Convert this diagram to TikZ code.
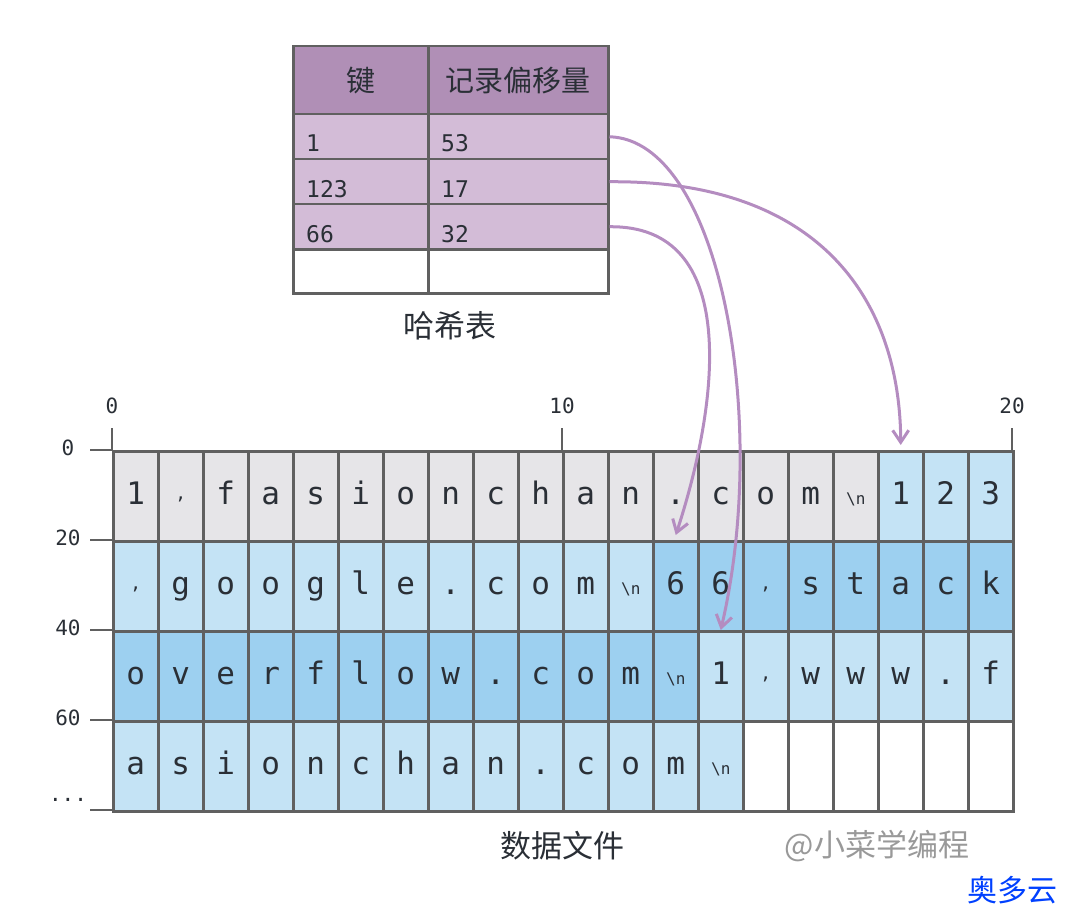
\documentclass[tikz,border=0pt]{standalone}
\usepackage{fontspec}
\setmonofont{DejaVu Sans Mono}
\newfontfamily\cjk{Noto Sans CJK SC}
\usetikzlibrary{arrows.meta}
\definecolor{gridc}{HTML}{606060}
\definecolor{grayc}{HTML}{E6E5E8}
\definecolor{lb}{HTML}{C4E3F5}
\definecolor{db}{HTML}{9DD0F0}
\definecolor{hdr}{HTML}{B08FB6}
\definecolor{row}{HTML}{D3BCD7}
\definecolor{arr}{HTML}{B48CC0}
\definecolor{txt}{HTML}{2A2F36}
\tikzset{
 cell/.style={draw=gridc,line width=2.5pt,minimum width=45pt,minimum height=90pt,inner sep=0pt,anchor=north west,font=\ttfamily\fontsize{31}{31}\selectfont,text=txt,text height=23pt,text depth=7pt},
 hcell/.style={draw=gridc,line width=2.5pt,inner sep=0pt,anchor=north west,text=txt},
 arrowc/.style={draw=arr,line width=3pt,-{Straight Barb[length=12pt,width=16pt,line width=3pt]}},
 tick/.style={draw=gridc,line width=2.5pt},
 axl/.style={font=\ttfamily\fontsize{21}{21}\selectfont,text=txt}
}
\newcommand{\nl}{{\fontsize{16}{16}\selectfont\textbackslash n}}
\newcommand{\cm}{{\fontsize{18}{18}\selectfont\raisebox{5pt}{,}}}
\begin{document}
\begin{tikzpicture}[x=1pt,y=-1pt]
\useasboundingbox (0,0) rectangle (1080,923);
% hash table
\node[hcell,fill=hdr,minimum width=135pt,minimum height=68pt] (h00) at (292,45) {\cjk\fontsize{29}{29}\selectfont 键};
\node[hcell,fill=hdr,minimum width=180pt,minimum height=68pt] (h01) at (427,45) {\cjk\fontsize{29}{29}\selectfont 记录偏移量};
\foreach \k/\v/\i in {1/53/1,123/17/2,66/32/3}{
 \node[hcell,fill=row,minimum width=135pt,minimum height=45pt] (k\i) at (292,113+45*\i-45) {};
 \node[hcell,fill=row,minimum width=180pt,minimum height=45pt] (v\i) at (427,113+45*\i-45) {};
 \node[anchor=base west,inner sep=0pt,font=\ttfamily\fontsize{23}{23}\selectfont,text=txt] (kt\i) at (306,113+45*\i-6) {\k};
 \node[anchor=base west,inner sep=0pt,font=\ttfamily\fontsize{23}{23}\selectfont,text=txt] (vt\i) at (441,113+45*\i-6) {\v};
}
\node[hcell,fill=white,minimum width=135pt,minimum height=44pt] (k4) at (292,248) {};
\node[hcell,fill=white,minimum width=180pt,minimum height=44pt] (v4) at (427,248) {};
\node[font=\cjk\fontsize{31}{31}\selectfont,text=txt] (ht) at (450,326) {哈希表};
% axes
\foreach \x/\l in {0/0,10/10,20/20}{
 \draw[tick] (112+45*\x,428) -- (112+45*\x,450);
 \node[axl] (tx\x) at (112+45*\x,406) {\l};
}
\foreach \y/\l in {0/0,1/20,2/40,3/60}{
 \draw[tick] (90,450+90*\y) -- (112,450+90*\y);
 \node[axl] (ty\y) at (68,448+90*\y) {\l};
}
\draw[tick] (90,810) -- (112,810);
\node[axl] (tyd) at (68,800) {...};
% data cells
\foreach \c/\f [count=\i from 0] in {
 1/grayc,{\cm}/grayc,f/grayc,a/grayc,s/grayc,i/grayc,o/grayc,n/grayc,c/grayc,h/grayc,a/grayc,n/grayc,./grayc,c/grayc,o/grayc,m/grayc,{\nl}/grayc,1/lb,2/lb,3/lb}
 {\node[cell,fill=\f] (a\i) at (112+45*\i,450) {\c};}
\foreach \c/\f [count=\i from 0] in {
 {\cm}/lb,g/lb,o/lb,o/lb,g/lb,l/lb,e/lb,./lb,c/lb,o/lb,m/lb,{\nl}/lb,6/db,6/db,{\cm}/db,s/db,t/db,a/db,c/db,k/db}
 {\node[cell,fill=\f] (b\i) at (112+45*\i,540) {\c};}
\foreach \c/\f [count=\i from 0] in {
 o/db,v/db,e/db,r/db,f/db,l/db,o/db,w/db,./db,c/db,o/db,m/db,{\nl}/db,1/lb,{\cm}/lb,w/lb,w/lb,w/lb,./lb,f/lb}
 {\node[cell,fill=\f] (d\i) at (112+45*\i,630) {\c};}
\foreach \c/\f [count=\i from 0] in {
 a/lb,s/lb,i/lb,o/lb,n/lb,c/lb,h/lb,a/lb,n/lb,./lb,c/lb,o/lb,m/lb,{\nl}/lb,{}/white,{}/white,{}/white,{}/white,{}/white,{}/white}
 {\node[cell,fill=\f] (e\i) at (112+45*\i,720) {\c};}
\node[font=\cjk\fontsize{31}{31}\selectfont,text=txt] (df) at (562,846) {数据文件};
\node[font=\cjk\fontsize{31}{31}\selectfont,text=gray!80] (wm) at (877,846) {@小菜学编程};
\node[font=\cjk\fontsize{30}{30}\selectfont,text=blue!75!cyan] (wm2) at (1012,890) {奥多云};
% arrows
\draw[arrowc] (v1.east) .. controls (720,140) and (770,420) .. (d13.north);
\draw[arrowc] (v2.east) .. controls (820,180) and (900,300) .. ([yshift=5pt]a17.north);
\draw[arrowc] (v3.east) .. controls (740,225) and (720,400) .. ([yshift=5pt]b12.north);
\end{tikzpicture}
\end{document}
